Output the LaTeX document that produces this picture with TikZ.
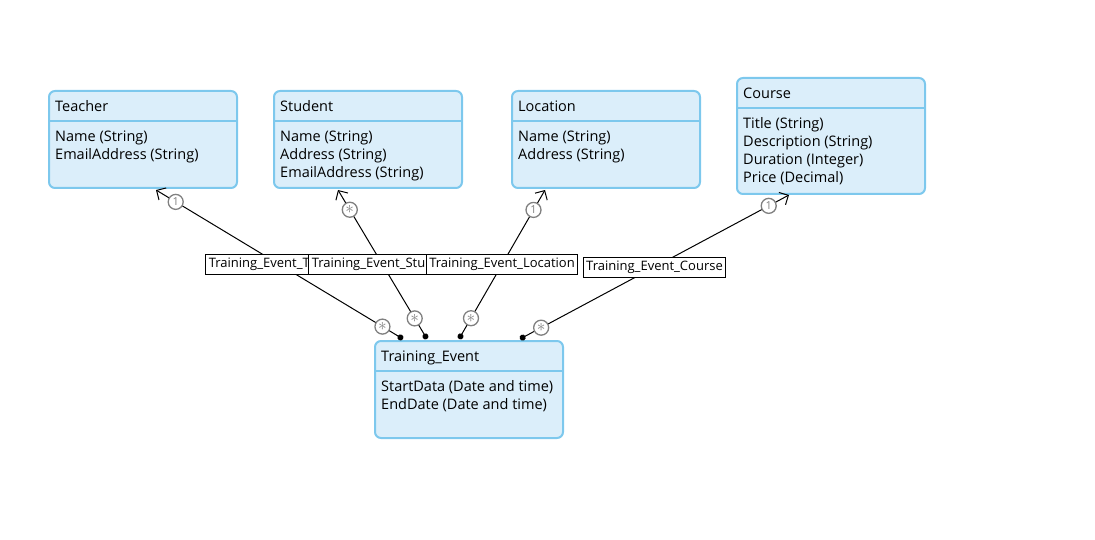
\documentclass[tikz,border=0pt]{standalone}
\usepackage{fontspec}
\setmainfont{Open Sans}
\usetikzlibrary{positioning,calc,arrows.meta}

\definecolor{entfill}{RGB}{219,238,250}
\definecolor{entline}{RGB}{125,200,237}
\definecolor{multgray}{RGB}{128,128,128}

\newcommand{\many}{{\fontsize{16}{16}\selectfont$\ast$}}

\tikzset{
  entity/.style={draw=entline, fill=entfill, line width=2pt, rounded corners=6pt,
    anchor=north west, minimum width=188pt, inner sep=0pt},
  enttext/.style={anchor=north west, inner sep=0pt, align=left,
    font=\fontsize{14.5}{18}\selectfont},
  assoc/.style={draw, fill=white, line width=1pt, inner sep=3pt, minimum height=20pt,
    font=\fontsize{13}{15}\selectfont},
  mult/.style={circle, draw=multgray, fill=white, line width=1.3pt, inner sep=0pt,
    minimum size=15pt, text=multgray, font=\fontsize{11}{11}\selectfont},
  link/.style={line width=1pt, {Circle[length=6pt]}-{Straight Barb[length=7pt,width=14pt]}}
}

\begin{document}
\begin{tikzpicture}[x=1pt,y=-1pt]
    \useasboundingbox (0,0) rectangle (1095,540);

    % entities
    \foreach \n/\x/\y/\h/\t/\a in {
        teacher/48/90/97/Teacher/{Name (String)\\EmailAddress (String)},
        student/273/90/97/Student/{Name (String)\\Address (String)\\EmailAddress (String)},
        location/511/90/97/Location/{Name (String)\\Address (String)},
        course/736/77/116/Course/{Title (String)\\Description (String)\\Duration (Integer)\\Price (Decimal)},
        event/374/340/97/Training\_Event/{StartData (Date and time)\\EndDate (Date and time)}}
    {
        \node[entity, minimum height=\h pt] (\n) at (\x,\y) {};
        \draw[entline, line width=2pt] ($(\n.north west)+(0,31)$) -- ($(\n.north east)+(0,31)$);
        \node[enttext] (\n-title) at ($(\n.north west)+(7,10.5)$) {\t};
        \node[enttext] (\n-attrs) at ($(\n.north west)+(7,40.5)$) {\a};
    }

    % attachment points
    \coordinate (ev-t) at ($(event.north west)+(29,-1)$);
    \coordinate (ev-s) at ($(event.north west)+(53,-1)$);
    \coordinate (ev-l) at ($(event.north west)+(85,-1)$);
    \coordinate (ev-c) at ($(event.north west)+(146,-1)$);
    \coordinate (teacher-in) at ($(teacher.south west)+(108,1)$);
    \coordinate (student-in) at ($(student.south west)+(65,1)$);
    \coordinate (location-in) at ($(location.south west)+(34,1)$);
    \coordinate (course-in) at ($(course.south west)+(53,0)$);

    % associations
    \foreach \s/\e/\m/\l in {
        ev-t/teacher-in/1/Training\_Event\_Teacher,
        ev-s/student-in/\many/Training\_Event\_Student,
        ev-l/location-in/1/Training\_Event\_Location,
        ev-c/course-in/1/Training\_Event\_Course}
    {
        \draw[link] (\s) -- (\e);
        \node[mult] (\s-m1) at ($(\s)!24pt!(\e)$) {\many};
        \node[mult] (\s-m2) at ($(\e)!23pt!(\s)$) {\m};
        \node[assoc] (\s-lbl) at ($(\s)!0.5!(\e)$) {\l};
    }

\end{tikzpicture}
\end{document}
